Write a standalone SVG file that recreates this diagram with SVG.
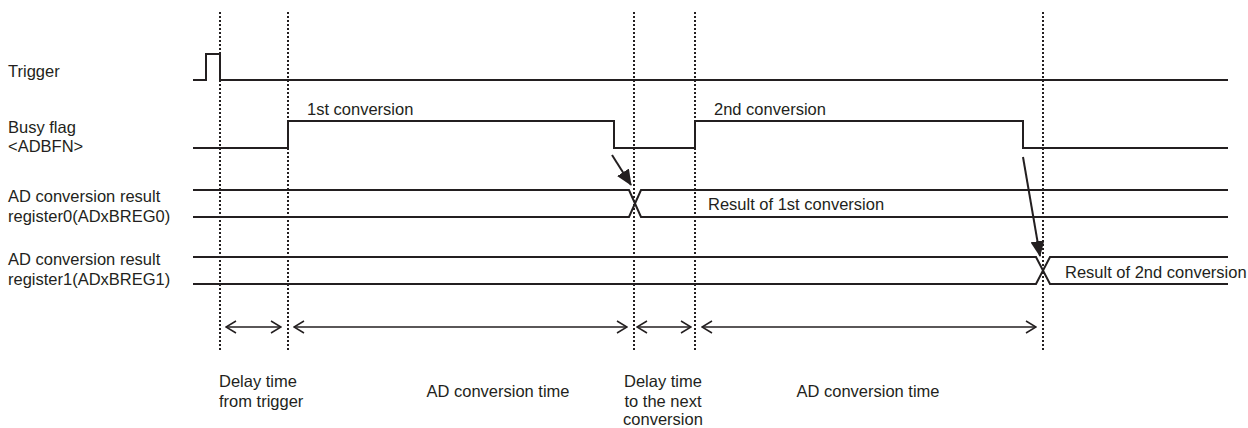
<svg xmlns="http://www.w3.org/2000/svg" width="1248" height="428" viewBox="0 0 1248 428">
<style>
text{font-family:"Liberation Sans",Arial,sans-serif;font-size:16.5px;fill:#231f20}
.sig{fill:none;stroke:#231f20;stroke-width:2}
.dot{fill:none;stroke:#231f20;stroke-width:2;stroke-dasharray:2 2}
.dim{fill:none;stroke:#231f20;stroke-width:1.5}
.arr{fill:none;stroke:#231f20;stroke-width:2}
</style>
<defs>
<marker id="chev" viewBox="0 0 12 14" refX="11" refY="7" markerWidth="12" markerHeight="14" markerUnits="userSpaceOnUse" orient="auto-start-reverse">
<path d="M1,1 L11,7 L1,13" fill="none" stroke="#231f20" stroke-width="1.5"/>
</marker>
<marker id="tri" viewBox="0 0 16 14" refX="15" refY="7" markerWidth="16" markerHeight="14" markerUnits="userSpaceOnUse" orient="auto">
<path d="M0,0 L16,7 L0,14 Z" fill="#231f20"/>
</marker>
</defs>
<g id="guides">
<line class="dot" x1="220" y1="12" x2="220" y2="352"/>
<line class="dot" x1="288" y1="12" x2="288" y2="352"/>
<line class="dot" x1="634" y1="12" x2="634" y2="352"/>
<line class="dot" x1="695" y1="12" x2="695" y2="352"/>
<line class="dot" x1="1043" y1="12" x2="1043" y2="352"/>
</g>
<g id="trigger">
<text x="8" y="77">Trigger</text>
<path class="sig" d="M193,80 H206 V54 H220 V80 H1228"/>
</g>
<g id="busy">
<text x="8" y="133">Busy flag</text>
<text x="8" y="152">&lt;ADBFN&gt;</text>
<path class="sig" d="M193,148 H288 V121 H614 V148 H695 V121 H1023 V148 H1228"/>
<text x="307" y="115">1st conversion</text>
<text x="714" y="115">2nd conversion</text>
</g>
<g id="reg0">
<text x="8" y="202">AD conversion result</text>
<text x="8" y="222">register0(ADxBREG0)</text>
<path class="sig" d="M193,190 H629 L641,217 H1228"/>
<path class="sig" d="M193,217 H629 L641,190 H1228"/>
<text x="708" y="210">Result of 1st conversion</text>
</g>
<g id="reg1">
<text x="8" y="265">AD conversion result</text>
<text x="8" y="285">register1(ADxBREG1)</text>
<path class="sig" d="M193,257 H1036 L1050,284 H1228"/>
<path class="sig" d="M193,284 H1036 L1050,257 H1228"/>
<text x="1065" y="278">Result of 2nd conversion</text>
</g>
<g id="connectors">
<line class="arr" x1="612" y1="155" x2="631" y2="185" marker-end="url(#tri)"/>
<line class="arr" x1="1023" y1="157" x2="1040" y2="256" marker-end="url(#tri)"/>
<line class="dim" x1="226" y1="327" x2="281" y2="327" marker-start="url(#chev)" marker-end="url(#chev)"/>
<line class="dim" x1="294" y1="327" x2="627" y2="327" marker-start="url(#chev)" marker-end="url(#chev)"/>
<line class="dim" x1="637" y1="327" x2="691" y2="327" marker-start="url(#chev)" marker-end="url(#chev)"/>
<line class="dim" x1="702" y1="327" x2="1036" y2="327" marker-start="url(#chev)" marker-end="url(#chev)"/>
</g>
<g id="labels">
<text x="219" y="387">Delay time</text>
<text x="219" y="407">from trigger</text>
<text x="498" y="397" text-anchor="middle">AD conversion time</text>
<text x="663" y="387" text-anchor="middle">Delay time</text>
<text x="663" y="407" text-anchor="middle">to the next</text>
<text x="663" y="425" text-anchor="middle">conversion</text>
<text x="868" y="397" text-anchor="middle">AD conversion time</text>
</g>
</svg>
